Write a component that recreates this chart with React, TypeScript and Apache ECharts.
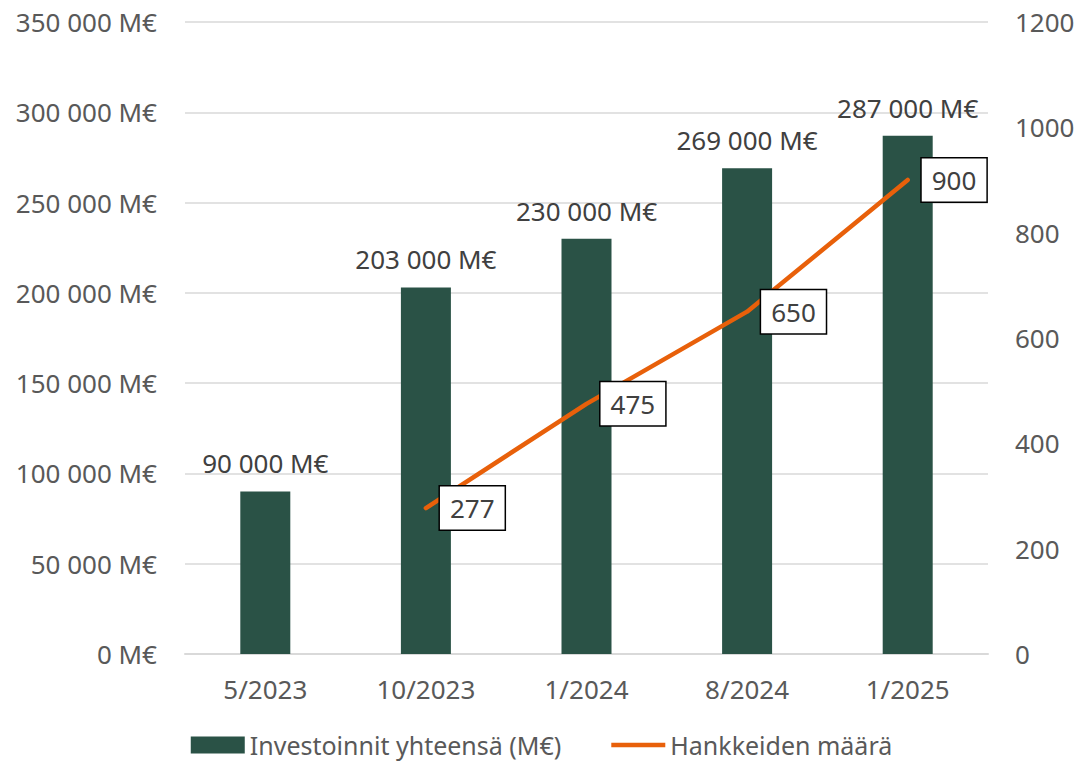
import React, { useEffect, useRef } from "react";
import * as echarts from "echarts";

const categories = ["5/2023", "10/2023", "1/2024", "8/2024", "1/2025"];
const investments = [90000, 203000, 230000, 269000, 287000];
const projectCounts: (number | null)[] = [null, 277, 475, 650, 900];
const seriesNames = ["Investoinnit yhteensä (M€)", "Hankkeiden määrä"];

const FONT = "'Noto Sans', 'Open Sans', sans-serif";
const fmt = (v: number) => String(v).replace(/\B(?=(\d{3})+(?!\d))/g, " ");

export default function App() {
  const ref = useRef<HTMLDivElement>(null);
  useEffect(() => {
    if (!ref.current) return;
    const chart = echarts.init(ref.current, undefined, { renderer: "svg" });
    chart.setOption({
      animation: false,
      backgroundColor: "#fff",
      textStyle: { fontFamily: FONT },
      grid: { left: 185, right: 95, top: 22, bottom: 108, containLabel: false },
      legend: {
        data: [
          { name: seriesNames[0], icon: "rect" },
          { name: seriesNames[1], icon: "path://M0,0h60v5h-60z" },
        ],
        top: 732,
        padding: 0,
        left: "center",
        itemWidth: 54,
        itemHeight: 17,
        itemGap: 50,
        textStyle: { fontSize: 25, lineHeight: 26, color: "#595959", fontFamily: FONT },
      },
      xAxis: {
        type: "category",
        data: categories,
        axisTick: { show: false },
        axisLine: { lineStyle: { color: "#d9d9d9", width: 2 } },
        axisLabel: { fontSize: 26, color: "#595959", margin: 22, fontFamily: FONT },
      },
      yAxis: [
        {
          type: "value",
          min: 0,
          max: 350000,
          interval: 50000,
          axisLine: { show: false },
          axisTick: { show: false },
          splitLine: { lineStyle: { color: "#d9d9d9", width: 1.5 } },
          axisLabel: {
            fontSize: 26,
            color: "#595959",
            margin: 28,
            fontFamily: FONT,
            formatter: (v: number) => fmt(v) + " M€",
          },
        },
        {
          type: "value",
          min: 0,
          max: 1200,
          interval: 200,
          axisLine: { show: false },
          axisTick: { show: false },
          splitLine: { show: false },
          axisLabel: {
            fontSize: 26,
            color: "#595959",
            margin: 27,
            fontFamily: FONT,
            formatter: (v: number) => String(v),
          },
        },
      ],
      series: [
        {
          name: seriesNames[0],
          type: "bar",
          data: investments,
          barWidth: 50,
          itemStyle: { color: "#2a5246" },
          label: {
            show: true,
            position: "top",
            distance: 15,
            fontSize: 26,
            color: "#404040",
            fontFamily: FONT,
            formatter: (p: any) => fmt(p.value) + " M€",
          },
        },
        {
          name: seriesNames[1],
          type: "line",
          yAxisIndex: 1,
          data: projectCounts,
          symbol: "circle",
          symbolSize: 0.1,
          showSymbol: true,
          z: 5,
          lineStyle: { color: "#e8600a", width: 4.5, cap: "round" },
          itemStyle: { color: "#e8600a" },
          label: {
            show: true,
            position: "right",
            distance: 14,
            fontSize: 26,
            lineHeight: 30,
            color: "#404040",
            fontFamily: FONT,
            backgroundColor: "#fff",
            borderColor: "#000",
            borderWidth: 1.5,
            padding: [7, 10, 6, 10],
          },
        },
      ],
    });
    return () => chart.dispose();
  }, []);
  return (
    <div
      ref={ref}
      style={{ position: "absolute", left: 0, top: 0, width: 1083, height: 762 }}
    />
  );
}
